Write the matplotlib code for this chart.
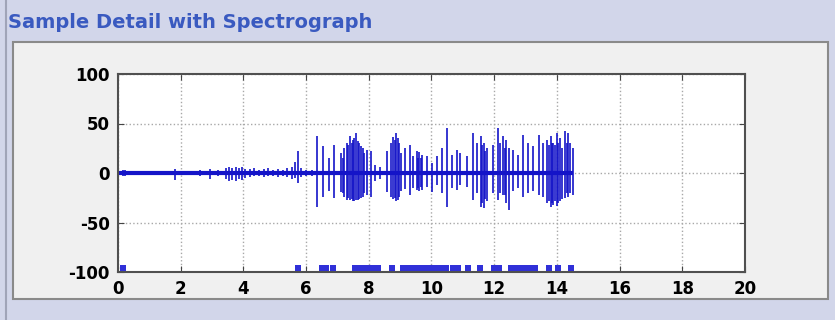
import matplotlib
matplotlib.use('Agg')
import matplotlib.pyplot as plt
from matplotlib.patches import Rectangle

plt.rcParams['axes.unicode_minus'] = False

# quiet part of the recording (small noise spikes)
quiet_x = [0.05, 0.15, 0.22, 0.6, 1.0, 1.4, 1.82, 2.3, 2.6, 2.93, 3.2, 3.45, 3.55, 3.65,
           3.75, 3.85, 3.95, 4.05, 4.2, 4.35, 4.5, 4.65, 4.8, 4.95, 5.1, 5.25, 5.4, 5.55,
           5.65, 5.75, 5.85, 6.0, 6.2]
quiet_top = [2, 3, 3, 2, 2, 2, 4, 2, 3, 4, 3, 5, 6, 5, 6, 5, 6, 4, 4, 5, 3, 4, 5, 3, 4, 3,
             5, 6, 11, 22.5, 5, 3, 3]
quiet_bot = [-2, -3, -3, -2, -2, -2, -7, -2, -3, -6, -3, -6, -8, -7, -8, -6, -7, -5, -4, -3,
             -3, -4, -3, -3, -4, -3, -4, -6, -5, -10, -4, -3, -3]

# loud part: spike times and extremes
loud_x = [6.34, 6.55, 6.74, 6.90, 7.11, 7.17, 7.22, 7.29, 7.34, 7.40, 7.45, 7.49, 7.54, 7.59,
          7.64, 7.70, 7.75, 7.80, 7.86, 7.93, 8.06, 8.20, 8.36, 8.57, 8.70, 8.78, 8.82, 8.87,
          8.92, 8.97, 9.02, 9.15, 9.31, 9.42, 9.53, 9.57, 9.61, 9.65, 9.69, 9.85, 10.01, 10.17,
          10.33, 10.48, 10.64, 10.80, 10.91, 11.12, 11.31, 11.44, 11.58, 11.62, 11.67, 11.71,
          11.76, 11.97, 12.13, 12.20, 12.27, 12.33, 12.38, 12.48, 12.61, 12.77, 12.93, 13.09,
          13.25, 13.44, 13.56, 13.70, 13.75, 13.80, 13.84, 13.88, 13.93, 13.99, 14.04, 14.10,
          14.15, 14.26, 14.32, 14.37, 14.43, 14.50]
loud_top = [37, 27, 15, 28, 20, 15, 25, 30, 28, 37, 30, 33, 35, 40,
            32, 30, 27, 25, 20, 23, 22, 8, 6, 22, 30, 36, 33, 40,
            35, 30, 20, 25, 28, 17, 22, 15, 21, 15, 18, 17, 10, 17,
            25, 45, 18, 23, 20, 17, 40, 30, 37, 28, 30, 22,
            25, 28, 45, 30, 37, 25, 33, 25, 23, 18, 38, 30,
            27, 38, 30, 33, 28, 37, 30, 30, 28, 40, 30, 35,
            25, 42, 30, 40, 30, 25]
loud_bot = [-34, -24, -18, -25, -19, -20, -24, -27, -25, -27, -26, -28, -28, -27,
            -27, -26, -25, -24, -20, -22, -24, -8, -6, -19, -24, -26, -25, -28,
            -27, -24, -18, -16, -22, -15, -17, -15, -18, -14, -17, -14, -19, -12,
            -20, -34, -15, -17, -12, -14, -27, -20, -34, -30, -35, -26,
            -28, -20, -27, -20, -22, -22, -30, -37, -18, -15, -24, -20,
            -18, -22, -24, -30, -28, -34, -30, -32, -28, -33, -30, -28,
            -26, -25, -20, -24, -20, -22]

# detected segments, shown as squares near the bottom
mark_x = [0.15, 5.75, 6.5, 6.65, 6.85, 7.55, 7.7, 7.85, 8.0, 8.15, 8.3, 8.75,
          9.1, 9.25, 9.4, 9.55, 9.7, 9.85, 10.0, 10.15, 10.3, 10.45, 10.7, 10.85,
          11.15, 11.55, 12.0, 12.15, 12.55, 12.7, 12.85, 13.0, 13.15, 13.3,
          13.75, 14.05, 14.45]
mark_y = -95.5

x_ticks = [0, 2, 4, 6, 8, 10, 12, 14, 16, 18, 20]
y_ticks = [-100, -50, 0, 50, 100]

blue = '#1414c8'

fig = plt.figure(figsize=(8.35, 3.2), dpi=100)
fig.patch.set_facecolor('#d2d6ea')

# panel behind the plot
panel = Rectangle((13 / 835, 1 - 299 / 320), (828 - 13) / 835, (299 - 42) / 320,
                  transform=fig.transFigure, facecolor='#f0f0f0',
                  edgecolor='#8a8a8a', linewidth=1.5, zorder=-10)
fig.patches.append(panel)
edge = plt.Line2D([6 / 835, 6 / 835], [0, 1], transform=fig.transFigure,
                  color='#a0a4b8', linewidth=1.5, zorder=-10)
fig.lines.append(edge)

fig.text(8 / 835, 1 - 22 / 320, 'Sample Detail with Spectrograph', color='#3a5ac0',
         fontsize=14, fontweight='bold', va='center', ha='left')

ax = fig.add_axes([118 / 835, 1 - 272 / 320, (745 - 118) / 835, (272 - 74) / 320])
ax.set_facecolor('white')

ax.plot([0, 14.5], [0, 0], color=blue, linewidth=3, solid_capstyle='butt')
ax.vlines(quiet_x, quiet_bot, quiet_top, color=blue, linewidth=1.2)
ax.vlines(loud_x, loud_bot, loud_top, color=blue, linewidth=1.2)
ax.plot(mark_x, [mark_y] * len(mark_x), 's', color='#3030d8', markersize=4,
        markeredgewidth=0, clip_on=False)

ax.set_xlim(0, 20)
ax.set_ylim(-100, 100)
ax.set_xticks(x_ticks)
ax.set_yticks(y_ticks)
ax.grid(True, linestyle=':', color='#a8a8a8', linewidth=1)
ax.tick_params(direction='in', length=4, top=True, right=True, color='#444444',
               labelsize=12, pad=6)
for lab in ax.get_xticklabels() + ax.get_yticklabels():
    lab.set_fontweight('bold')
for s in ax.spines.values():
    s.set_color('#505050')
    s.set_linewidth(1.5)

fig.savefig('out.png', dpi=100, facecolor=fig.get_facecolor())
